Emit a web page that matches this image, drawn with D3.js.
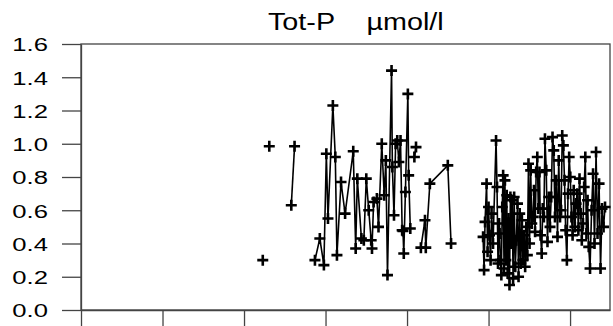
<!DOCTYPE html>
<html>
<head>
<meta charset="utf-8">
<script src="https://cdn.jsdelivr.net/npm/d3@7"></script>
<style>
  body { margin: 0; background: #fff; }
  text { font-family: Arial, "Liberation Sans", sans-serif; }
</style>
</head>
<body>
<div id="chart"></div>
<script>
// Tot-P, decimal years, one array per connected run of samples
var segmentYears = [
    [1992.23],
    [1992.31],
    [1992.58, 1992.62],
    [1992.87, 1992.93, 1992.98, 1993.01, 1993.03, 1993.09, 1993.12, 1993.14, 1993.19, 1993.24,
     1993.34, 1993.37, 1993.39, 1993.44, 1993.47, 1993.50, 1993.53, 1993.56, 1993.57, 1993.59,
     1993.63, 1993.65, 1993.69, 1993.72, 1993.74, 1993.76, 1993.81, 1993.82, 1993.84, 1993.86,
     1993.88, 1993.90, 1993.92, 1993.94, 1993.95, 1993.96, 1993.98, 1994.01, 1994.02, 1994.04],
    [1994.09, 1994.11],
    [1994.17, 1994.22, 1994.23, 1994.28, 1994.50, 1994.54],
    [1994.933, 1994.945, 1994.957, 1994.976, 1994.988, 1995.000, 1995.012, 1995.025, 1995.037,
     1995.055, 1995.092, 1995.104, 1995.116, 1995.129, 1995.136, 1995.145, 1995.157,
     1995.168, 1995.179, 1995.190, 1995.201, 1995.212, 1995.223, 1995.234, 1995.245, 1995.257, 1995.268, 1995.279, 1995.290,
     1995.301, 1995.314, 1995.328, 1995.341, 1995.355, 1995.368, 1995.382, 1995.395, 1995.409, 1995.422, 1995.436, 1995.449, 1995.463, 1995.476,
     1995.490, 1995.503, 1995.517, 1995.530, 1995.544, 1995.557, 1995.571, 1995.584, 1995.598, 1995.611, 1995.625, 1995.638, 1995.652, 1995.665, 1995.679, 1995.692,
     1995.708, 1995.723, 1995.739, 1995.754, 1995.769, 1995.785, 1995.800, 1995.815, 1995.831, 1995.846, 1995.861, 1995.877,
     1995.890, 1995.904, 1995.918, 1995.932, 1995.946, 1995.961, 1995.975, 1995.989, 1996.003, 1996.017, 1996.031, 1996.045, 1996.059,
     1996.074, 1996.088, 1996.102, 1996.116, 1996.130, 1996.144, 1996.158, 1996.173, 1996.187, 1996.201, 1996.215, 1996.229,
     1996.245, 1996.264, 1996.282, 1996.300, 1996.319, 1996.337, 1996.356, 1996.374, 1996.392, 1996.411, 1996.429]
];

var segmentValues = [
    [0.30],
    [0.985],
    [0.63, 0.985],
    [0.30, 0.43, 0.27, 0.94, 0.55, 1.23, 0.92, 0.33, 0.77, 0.58,
     0.955, 0.37, 0.79, 0.43, 0.42, 0.79, 0.60, 0.42, 0.37, 0.65,
     0.67, 0.50, 1.00, 0.69, 0.90, 0.21, 1.44, 0.86, 0.57, 1.00,
     1.02, 0.89, 1.02, 0.48, 0.475, 0.34, 0.71, 1.30, 0.81, 0.49],
    [0.92, 0.98],
    [0.375, 0.54, 0.375, 0.76, 0.87, 0.40],
    [0.44, 0.24, 0.53, 0.76, 0.35, 0.62, 0.45, 0.30, 0.58,
     0.40, 1.02, 0.74, 0.28, 0.52, 0.46, 0.30, 0.21,
     0.62, 0.81, 0.25, 0.78, 0.30, 0.69, 0.22, 0.55, 0.15, 0.68, 0.40, 0.66,
     0.19, 0.68, 0.26, 0.42, 0.64, 0.20, 0.58, 0.28, 0.54, 0.30, 0.45, 0.26, 0.50, 0.33,
     0.88, 0.40, 0.84, 0.52, 0.56, 0.72, 0.47, 0.83, 0.92, 0.61, 0.83, 0.45, 0.34, 0.61, 0.56, 1.03,
     0.84, 0.41, 0.68, 0.50, 0.68, 1.04, 0.96, 0.56, 0.78, 0.44, 0.90, 0.56,
     0.60, 1.05, 0.99, 0.78, 0.48, 0.30, 0.70, 0.92, 0.80, 0.56, 0.45, 0.72, 0.50,
     0.64, 0.70, 0.48, 0.79, 0.58, 0.42, 0.52, 0.74, 0.92, 0.46, 0.66, 0.38,
     0.25, 0.60, 0.82, 0.40, 0.95, 0.46, 0.76, 0.25, 0.61, 0.50, 0.62]
];

var xTicks = [1990, 1991, 1992, 1993, 1994, 1995, 1996];
var yTicks = [0, 0.2, 0.4, 0.6, 0.8, 1.0, 1.2, 1.4, 1.6];
var titleText = 'Tot-P    \u00b5mol/l';

var chart_width = 613;
var chart_height = 326;
var plot_left = 81, plot_right = 610, plot_top = 44, plot_bottom = 310;
var axis_color = '#444';

var svg = d3.select('#chart')
    .append('svg')
    .attr('width', chart_width)
    .attr('height', chart_height)

var x_scale = d3.scaleLinear()
    .domain([1990, 1996.49])
    .range([plot_left, plot_right])

var y_scale = d3.scaleLinear()
    .domain([0, 1.6])
    .range([plot_bottom, plot_top])

// frame (top + right)
svg.append('rect')
    .attr('x', plot_left)
    .attr('y', plot_top)
    .attr('width', plot_right - plot_left)
    .attr('height', plot_bottom - plot_top)
    .attr('fill', 'none')
    .attr('stroke', axis_color)
    .attr('stroke-width', 1.3)

// y axis
var y_axis = svg.append('g')
    .attr('transform', 'translate(' + plot_left + ',0)')
    .call(d3.axisLeft(y_scale)
        .tickValues(yTicks)
        .tickSize(19)
        .tickSizeOuter(0)
        .tickFormat(d3.format('.1f')))
y_axis.select('.domain').attr('stroke', axis_color).attr('stroke-width', 1.3)
y_axis.selectAll('line').attr('stroke', axis_color).attr('stroke-width', 1.3)
y_axis.selectAll('text')
    .attr('x', null)
    .attr('dy', '0.36em')
    .attr('transform', 'translate(-33,0) scale(1.35,1)')
    .attr('font-size', 19)
    .attr('fill', '#000')

// x axis, ticks only
var x_axis = svg.append('g')
    .attr('transform', 'translate(0,' + plot_bottom + ')')
    .call(d3.axisBottom(x_scale)
        .tickValues(xTicks)
        .tickSize(17)
        .tickSizeOuter(0)
        .tickFormat(''))
x_axis.select('.domain').attr('stroke', axis_color).attr('stroke-width', 1.3)
x_axis.selectAll('line').attr('stroke', axis_color).attr('stroke-width', 1.3)

// title
svg.append('text')
    .text(titleText)
    .attr('transform', 'translate(268,30) scale(1.25,1)')
    .attr('font-size', 23)
    .attr('fill', '#000')
    .style('white-space', 'pre')

var segments = segmentYears.map(function (ys, i) {
    return ys.map(function (t, j) {
        return { t: t, v: segmentValues[i][j] };
    });
});

var line = d3.line()
    .x(function (d) { return x_scale(d.t); })
    .y(function (d) { return y_scale(d.v); })

svg.selectAll('path.series')
    .data(segments)
    .enter()
    .append('path')
    .attr('class', 'series')
    .attr('d', line)
    .attr('fill', 'none')
    .attr('stroke', '#000')
    .attr('stroke-width', 1.6)

var points = d3.merge(segments);

// plus markers
svg.selectAll('path.mark')
    .data(points)
    .enter()
    .append('path')
    .attr('class', 'mark')
    .attr('transform', function (d) {
        return 'translate(' + x_scale(d.t) + ',' + y_scale(d.v) + ')';
    })
    .attr('d', 'M-5.5,0H5.5M0,-5.5V5.5')
    .attr('stroke', '#000')
    .attr('stroke-width', 2.6)
</script>
</body>
</html>
